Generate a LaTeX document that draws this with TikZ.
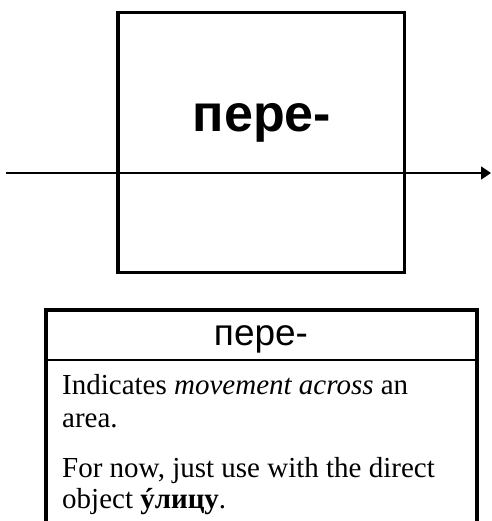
\documentclass[tikz,border=0pt]{standalone}
\usepackage{fontspec}
\setmainfont{Liberation Serif}
\setsansfont{Liberation Sans}
\usetikzlibrary{arrows.meta}
\tikzset{
  frame/.style={line width=3.5pt, line join=miter},
  cardframe/.style={line width=4pt, line join=miter},
  sepline/.style={line width=2pt},
  flow/.style={line width=1.5pt, -{Triangle[length=10pt,width=13pt]}},
  bodytext/.style={anchor=base west, inner sep=0pt, font=\fontsize{29}{33}\selectfont},
}
\begin{document}
\begin{tikzpicture}[x=1pt,y=-1pt]
\useasboundingbox (0,0) rectangle (491,521);
% top box
\node (box) [draw, frame, minimum width=286.5pt, minimum height=259.5pt, inner sep=0pt] at (261,142.5) {};
\node (title) [anchor=base, inner sep=0pt, font=\sffamily\bfseries\fontsize{52}{60}\selectfont] at (262,132) {пере-};
% arrow
\coordinate (a0) at (6,173);
\coordinate (a1) at (491,173);
\draw[flow] (a0) -- (a1);
% bottom card
\coordinate (c0) at (45.5,530);
\coordinate (c1) at (45.5,310);
\coordinate (c2) at (477,310);
\coordinate (c3) at (477,530);
\draw[cardframe] (c0) -- (c1) -- (c2) -- (c3);
\coordinate (s0) at (47.5,360);
\coordinate (s1) at (475,360);
\draw[sepline] (s0) -- (s1);
\node (head) [anchor=base, inner sep=0pt, font=\sffamily\fontsize{37}{40}\selectfont] at (261,345) {пере-};
\node (l1) [bodytext] at (62,394) {Indicates \emph{movement across} an};
\node (l2) [bodytext] at (62,427) {area.};
\node (l3) [bodytext] at (62,477) {For now, just use with the direct};
\node (l4) [bodytext] at (62,508) {object \textbf{ýлицу}.};
\end{tikzpicture}
\end{document}
